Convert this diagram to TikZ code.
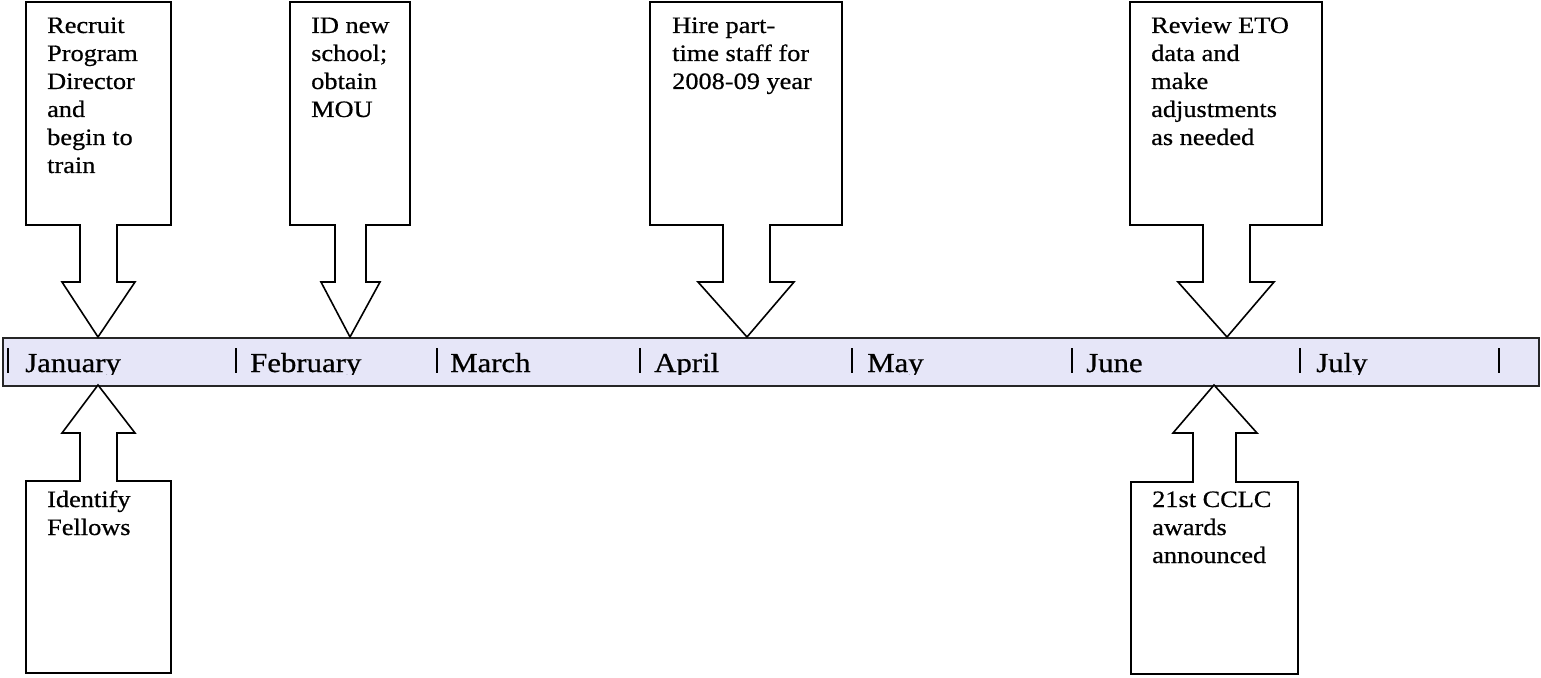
\documentclass[tikz,border=0pt]{standalone}
\usepackage{fontspec}
\setmainfont{Liberation Serif}[FakeStretch=1.12,FakeBold=0.6]
\newcommand\cbfont{\fontsize{23.5}{28}\selectfont}
\newcommand\mofont{\fontsize{27.5}{30}\selectfont}
\definecolor{barfill}{RGB}{230,230,248}
\begin{document}
\begin{tikzpicture}[x=1pt,y=-1pt,
  callout/.style={draw=black,line width=1.6pt,fill=white,line join=miter},
  ctext/.style={anchor=base west,inner sep=0pt,font=\cbfont},
  month/.style={anchor=base west,inner sep=0pt,font=\mofont},
  tick/.style={line width=2pt}]
\useasboundingbox (0,0) rectangle (1541,677);
% timeline bar
\node[draw=black!85,line width=2pt,fill=barfill,minimum width=1536pt,minimum height=48pt,inner sep=0pt,anchor=north west] (bar) at (2,337) {};
\begin{scope}
\clip (3,338) rectangle (1537,374);
\foreach \x/\m/\tx [count=\i] in {8/January/25,236/February/250,437/March/450,640/April/654,852/May/867,1072/June/1086,1300/July/1316}{
  \node[month] (m\i) at (\tx,372) {\m};
  \draw[tick] (\x,348) -- (\x,373);
}
\draw[tick] (1499,348) -- (1499,373);
\end{scope}
% callouts above
\coordinate (tipA) at (98,337);
\draw[callout] (26,2) -- (171,2) -- (171,225) -- (117,225) -- (117,282) -- (135,282) -- (tipA) -- (62,282) -- (80,282) -- (80,225) -- (26,225) -- cycle;
\node[ctext] (tA) at (47,33) {\begin{tabular}[t]{@{}l@{}}Recruit\\Program\\Director\\and\\begin to\\train\end{tabular}};
\coordinate (tipB) at (350,337);
\draw[callout] (290,2) -- (410,2) -- (410,225) -- (366,225) -- (366,282) -- (380,282) -- (tipB) -- (321,282) -- (335,282) -- (335,225) -- (290,225) -- cycle;
\node[ctext] (tB) at (311,33) {\begin{tabular}[t]{@{}l@{}}ID new\\school;\\obtain\\MOU\end{tabular}};
\coordinate (tipC) at (747,337);
\draw[callout] (650,2) -- (842,2) -- (842,225) -- (770,225) -- (770,282) -- (794,282) -- (tipC) -- (698,282) -- (723,282) -- (723,225) -- (650,225) -- cycle;
\node[ctext] (tC) at (672,33) {\begin{tabular}[t]{@{}l@{}}Hire part-\\time staff for\\2008-09 year\end{tabular}};
\coordinate (tipD) at (1227,337);
\draw[callout] (1130,2) -- (1322,2) -- (1322,225) -- (1250,225) -- (1250,282) -- (1274,282) -- (tipD) -- (1178,282) -- (1203,282) -- (1203,225) -- (1130,225) -- cycle;
\node[ctext] (tD) at (1151,33) {\begin{tabular}[t]{@{}l@{}}Review ETO\\data and\\make\\adjustments\\as needed\end{tabular}};
% callouts below
\coordinate (tipE) at (98,385);
\draw[callout] (26,673) -- (171,673) -- (171,481) -- (117,481) -- (117,433) -- (135,433) -- (tipE) -- (62,433) -- (80,433) -- (80,481) -- (26,481) -- cycle;
\node[ctext] (tE) at (47,507) {\begin{tabular}[t]{@{}l@{}}Identify\\Fellows\end{tabular}};
\coordinate (tipF) at (1214,385);
\draw[callout] (1131,674) -- (1298,674) -- (1298,482) -- (1236,482) -- (1236,433) -- (1257,433) -- (tipF) -- (1173,433) -- (1193,433) -- (1193,482) -- (1131,482) -- cycle;
\node[ctext] (tF) at (1152,507) {\begin{tabular}[t]{@{}l@{}}21st CCLC\\awards\\announced\end{tabular}};
\end{tikzpicture}
\end{document}
